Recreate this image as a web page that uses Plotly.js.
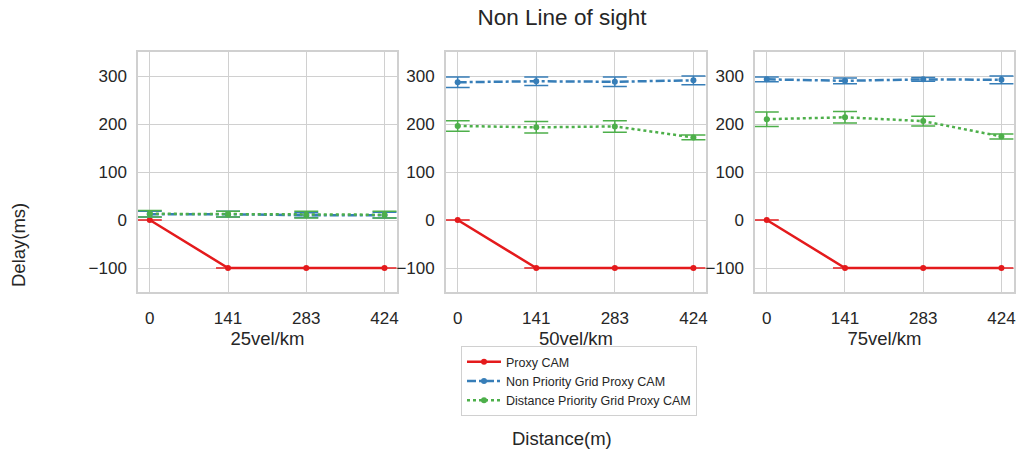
<!DOCTYPE html>
<html><head><meta charset="utf-8">
<script src="https://cdn.plot.ly/plotly-3.0.1.min.js"></script>
<style>body{margin:0;background:#fff}#c{width:1018px;height:453px}</style>
</head><body><div id="c"></div>
<script>
const distances = ['0','141','283','424'];
const speeds = ['25vel/km','50vel/km','75vel/km'];
const seriesNames = ['Proxy CAM','Non Priority Grid Proxy CAM','Distance Priority Grid Proxy CAM'];

const proxy25 = [0,-100,-100,-100];
const proxy50 = [0,-100,-100,-100];
const proxy75 = [0,-100,-100,-100];
const proxyErr = [0,0,0,0];

const nonPrio25 = [12,12,10,10];
const nonPrio25Err = [6,6,5,6];
const nonPrio50 = [287,289,288,291];
const nonPrio50Err = [11,9,10,9];
const nonPrio75 = [293,290,293,292];
const nonPrio75Err = [5,6,4,8];

const distPrio25 = [13,12,11,11];
const distPrio25Err = [7,6,7,7];
const distPrio50 = [196,193,195,172];
const distPrio50Err = [11,12,12,5];
const distPrio75 = [210,214,206,174];
const distPrio75Err = [15,12,10,5];

const colors = ['#e41a1c','#377eb8','#4daf4a'];
const dashes = ['solid','dashdot','dot'];

const panelData = [
  [[proxy25,proxyErr],[nonPrio25,nonPrio25Err],[distPrio25,distPrio25Err]],
  [[proxy50,proxyErr],[nonPrio50,nonPrio50Err],[distPrio50,distPrio50Err]],
  [[proxy75,proxyErr],[nonPrio75,nonPrio75Err],[distPrio75,distPrio75Err]]
];

const traces = [];
panelData.forEach((panel,pi)=>{
  panel.forEach((s,si)=>{
    traces.push({
      type:'scatter', mode:'lines+markers',
      x: distances, y: s[0],
      name: seriesNames[si],
      legendgroup: seriesNames[si],
      showlegend: pi===1,
      xaxis: pi===0?'x':'x'+(pi+1),
      yaxis: pi===0?'y':'y'+(pi+1),
      line:{color:colors[si], width:2.5, dash:dashes[si]},
      marker:{color:colors[si], size:6},
      error_y:{type:'data', array:s[1], visible:true, color:colors[si], thickness:1.5, width:12}
    });
  });
});

const font = {family:'Liberation Sans, Arial, sans-serif', color:'#262626'};
const domainsX = [[0.1356,0.390],[0.438,0.6935],[0.7417,0.996]];
const layout = {
  width:1018, height:453,
  margin:{l:0,r:0,t:0,b:0},
  paper_bgcolor:'#fff', plot_bgcolor:'#fff',
  font: Object.assign({size:17}, font),
  title:{text:'Non Line of sight', x:562/1018, xanchor:'center', y:1-17/453, yanchor:'middle', yref:'paper', font:Object.assign({size:22.5},font)},
  showlegend:true,
  legend:{x:461/1018, xanchor:'left', y:1-346/453, yanchor:'top', bgcolor:'#fff', bordercolor:'#d0d0d0', borderwidth:1, font:Object.assign({size:12.5},font), tracegroupgap:0, itemwidth:34},
  annotations:[
    {text:'Delay(ms)', xref:'paper', yref:'paper', x:18/1018, y:1-245/453, xanchor:'center', yanchor:'middle', showarrow:false, textangle:-90, font:Object.assign({size:18.5},font)},
    {text:'Distance(m)', xref:'paper', yref:'paper', x:562/1018, y:1-438/453, xanchor:'center', yanchor:'middle', showarrow:false, font:Object.assign({size:18.5},font)}
  ]
};
for(let i=0;i<3;i++){
  const xa = i===0?'xaxis':'xaxis'+(i+1);
  const ya = i===0?'yaxis':'yaxis'+(i+1);
  layout[xa] = {
    domain:domainsX[i], anchor: i===0?'y':'y'+(i+1),
    type:'category', range:[-0.15,3.16],
    showgrid:true, gridcolor:'#d0d0d0', gridwidth:1.2,
    showline:true, mirror:true, linecolor:'#d0d0d0', linewidth:1.5,
    ticks:'', ticklabelstandoff:10, tickfont:Object.assign({size:17},font),
    title:{text:speeds[i], font:Object.assign({size:18.5},font), standoff:4}
  };
  layout[ya] = {
    domain:[1-292/453, 1-52/453], anchor: i===0?'x':'x'+(i+1),
    range:[-150,350], tickvals:[-100,0,100,200,300],
    showgrid:true, gridcolor:'#d0d0d0', gridwidth:1.2, zeroline:false,
    showline:true, mirror:true, linecolor:'#d0d0d0', linewidth:1.5,
    ticks:'', ticklabelstandoff:6, tickfont:Object.assign({size:17},font)
  };
}
Plotly.newPlot('c', traces, layout, {displayModeBar:false});
</script></body></html>
